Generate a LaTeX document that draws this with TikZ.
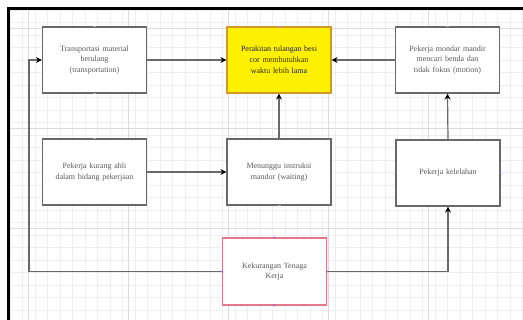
\documentclass[tikz,border=0pt]{standalone}
\usepackage{fontspec}
\setmainfont{Liberation Serif}
\usetikzlibrary{arrows.meta}
\definecolor{linegray}{RGB}{105,105,105}
\definecolor{txtgray}{RGB}{90,90,90}
\definecolor{gridminor}{RGB}{238,238,238}
\definecolor{gridmajor}{RGB}{218,218,218}
\definecolor{yfill}{RGB}{255,240,0}
\definecolor{yborder}{RGB}{215,150,40}
\definecolor{pinkborder}{RGB}{225,120,140}
\definecolor{handle}{RGB}{150,110,190}
\tikzset{
  box/.style={draw=linegray, line width=1.2pt, fill=white, minimum width=103pt, minimum height=66pt,
    inner sep=2pt, align=center, text width=100pt, font=\fontsize{8}{10.8}\selectfont, text=txtgray},
  conn/.style={draw=linegray, line width=1.2pt},
  arr/.style={conn, -{Stealth[length=6pt,width=6pt,color=black]}},
  hnd/.style={fill=handle, circle, inner sep=0pt, minimum size=2.2pt}
}
\begin{document}
\begin{tikzpicture}[x=1pt,y=-1pt]
\useasboundingbox (0,0) rectangle (523,320);
\fill[white] (0,0) rectangle (523,320);
% grid
\foreach \x in {10,22.5,...,523} \draw[gridminor,line width=0.4pt] (\x,8) -- (\x,320);
\foreach \y in {10,22.5,...,320} \draw[gridminor,line width=0.4pt] (8,\y) -- (523,\y);
\foreach \x in {28,128,228,328,428} \draw[gridmajor,line width=0.5pt] (\x,8) -- (\x,320);
\foreach \y in {28,128,228} \draw[gridmajor,line width=0.5pt] (8,\y) -- (523,\y);
% frame
\draw[black,line width=3pt] (8.5,320) -- (8.5,8.5) -- (523,8.5);
% nodes
\node[box] (trans) at (94.5,60) {Transportasi material\\berulang\\(transportation)};
\node[box, fill=yfill, draw=yborder, text=black!85] (rakit) at (279,60) {Perakitan tulangan besi\\cor membutuhkan\\waktu lebih lama};
\node[box] (mondar) at (447.5,60) {Pekerja mondar mandir\\mencari benda dan\\tidak fokus (motion)};
\node[box] (ahli) at (94.5,172) {Pekerja kurang ahli\\dalam bidang pekerjaan};
\node[box] (tunggu) at (279,172) {Menunggu instruksi\\mandor (waiting)};
\node[box] (lelah) at (448,173) {Pekerja kelelahan};
\node[box, draw=pinkborder, minimum height=67pt] (kurang) at (274.5,271.5) {Kekurangan Tenaga\\Kerja};
% connectors
\draw[arr] (trans.east) -- (rakit.west);
\draw[arr] (mondar.west) -- (rakit.east);
\draw[arr] (tunggu.north) -- (rakit.south);
\draw[arr] (ahli.east) -- (tunggu.west);
\draw[arr] (lelah.north) -- (mondar.south);
\coordinate (rc) at (lelah.south |- kurang.east);
\draw[arr] (kurang.east) -- (rc) -- (lelah.south);
\coordinate (lc1) at (29,271.5);
\coordinate (lc2) at (29,60);
\draw[arr] (kurang.west) -- (lc1) -- (lc2) -- (trans.west);
% handles
\foreach \n in {kurang.east,kurang.west,kurang.north,kurang.south,lelah.east,lelah.west}
  \node[hnd] at (\n) {};
\foreach \n in {trans.north,rakit.north,mondar.north,trans.south,ahli.north,tunggu.south}
  \node[fill=handle!70,inner sep=0pt,minimum width=3pt,minimum height=1.2pt] at (\n) {};
\end{tikzpicture}
\end{document}
